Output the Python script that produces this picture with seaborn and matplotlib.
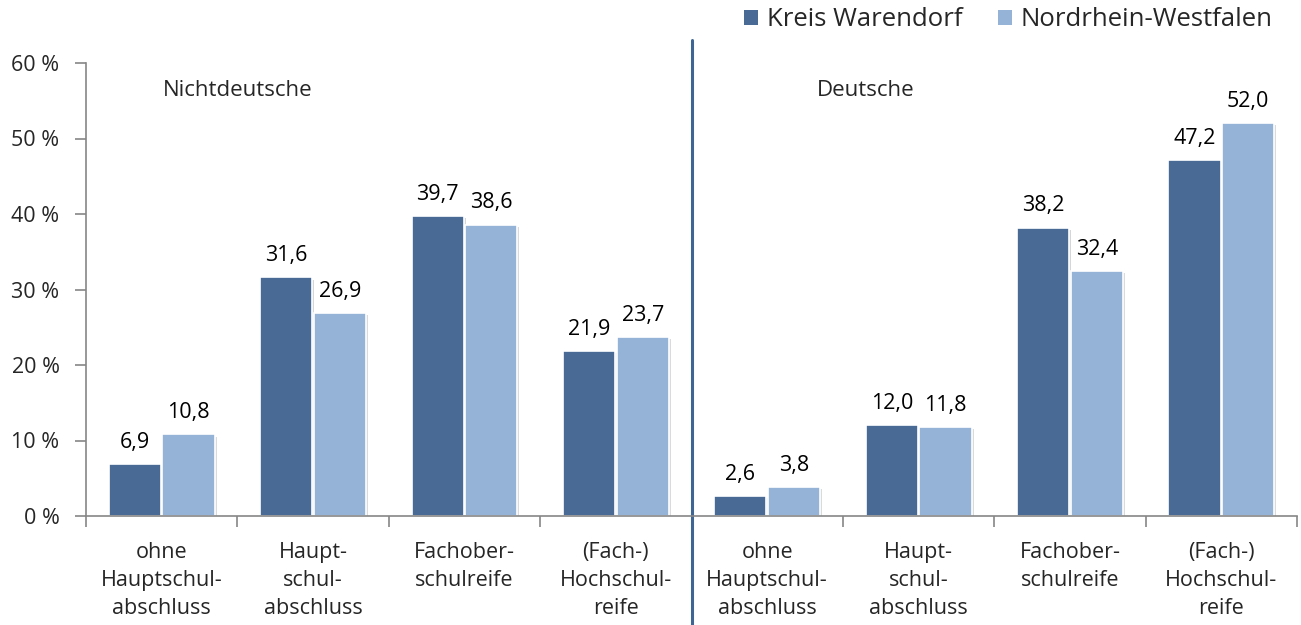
import matplotlib
matplotlib.use("Agg")
import matplotlib.pyplot as plt
import matplotlib.patheffects as pe
from matplotlib.patches import Patch
import seaborn as sns
import pandas as pd

groups = ["Nichtdeutsche"] * 4 + ["Deutsche"] * 4
categories = ["ohne\nHauptschul-\nabschluss", "Haupt-\nschul-\nabschluss",
              "Fachober-\nschulreife", "(Fach-)\nHochschul-\nreife"] * 2
series = ["Kreis Warendorf", "Nordrhein-Westfalen"]
warendorf = [6.9, 31.6, 39.7, 21.9, 2.6, 12.0, 38.2, 47.2]
nrw = [10.8, 26.9, 38.6, 23.7, 3.8, 11.8, 32.4, 52.0]
yticks = [0, 10, 20, 30, 40, 50, 60]
colors = ["#4A6A96", "#95B3D7"]

keys = [f"{g}|{i}" for i, g in enumerate(groups)]
df = pd.DataFrame({
    "key": keys * 2,
    "Serie": [series[0]] * 8 + [series[1]] * 8,
    "Wert": warendorf + nrw,
})

sns.set_theme(style="white")
plt.rcParams["font.family"] = ["Open Sans", "DejaVu Sans"]

FS = 15.5

fig = plt.figure(figsize=(13.01, 6.25), dpi=100)
ax = fig.add_axes([0.0661, 0.1744, 0.9309, 0.7248])

sns.barplot(data=df, x="key", y="Wert", hue="Serie", order=keys,
            hue_order=series, palette=colors, width=0.71, gap=0.03,
            edgecolor="white", linewidth=1.2, saturation=1, ax=ax,
            legend=False)

for patch in ax.patches:
    patch.set_path_effects([pe.SimplePatchShadow(offset=(1.5, -1.5), alpha=0.18), pe.Normal()])

for cont in ax.containers:
    labs = [f"{b.get_height():.1f}".replace(".", ",") for b in cont]
    ax.bar_label(cont, labels=labs, padding=8, fontsize=FS, color="black")

ax.set_xlim(-0.5, 7.5)
ax.set_ylim(0, 60)
ax.set_yticks(yticks)
ax.set_yticklabels([f"{t} %" for t in yticks], fontsize=FS)
ax.set_xticks(range(8))
ax.set_xticklabels(categories, fontsize=FS, linespacing=1.42)
ax.set_xticks([i - 0.5 for i in range(9)], minor=True)
ax.tick_params(axis="x", which="major", length=0, pad=19)
ax.tick_params(axis="x", which="minor", length=8, color="#868686", width=1.2, direction="out", bottom=True)
ax.tick_params(axis="y", length=8, color="#868686", width=1.2, direction="out", left=True, pad=11)
ax.set_xlabel("")
ax.set_ylabel("")

for s in ["top", "right"]:
    ax.spines[s].set_visible(False)
for s in ["left", "bottom"]:
    ax.spines[s].set_color("#868686")
    ax.spines[s].set_linewidth(1.2)

ax.axvline(3.5, ymin=-0.2406, ymax=1.0508, color="#3F6593", linewidth=2.2, clip_on=False)

ax.text(0.5, 56.3, "Nichtdeutsche", ha="center", va="center", fontsize=16)
ax.text(4.65, 56.4, "Deutsche", ha="center", va="center", fontsize=16)

handles = [Patch(facecolor=c, edgecolor="none") for c in colors]
fig.legend(handles, series, loc="upper right", bbox_to_anchor=(0.996, 1.025), ncol=2,
           frameon=False, fontsize=18.5, handlelength=0.55, handleheight=0.55,
           handletextpad=0.35, columnspacing=1.35)

fig.savefig("out.png", dpi=100)
